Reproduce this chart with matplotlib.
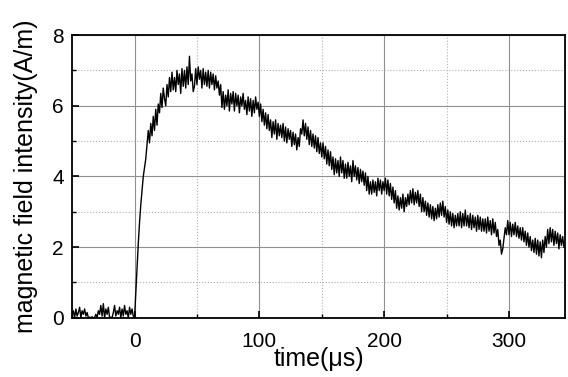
import numpy as np
import matplotlib
matplotlib.use("Agg")
import matplotlib.pyplot as plt
from matplotlib.ticker import MultipleLocator

plt.rcParams["font.family"] = ["Liberation Sans", "DejaVu Sans"]

# magnetic field intensity (A/m), every 1 us from -50 us
field = [
    # -50 .. -1
    0.1, 0.2, 0.0, 0.25, 0.05, 0.15, 0.3, 0.0, 0.2, 0.1,
    0.25, 0.05, 0.15, 0.0, 0.02, 0.0, 0.03, 0.0, 0.01, 0.1,
    0.0, 0.2, 0.1, 0.35, 0.05, 0.4, 0.0, 0.25, 0.1, 0.3,
    0.0, 0.02, 0.0, 0.15, 0.35, 0.05, 0.2, 0.1, 0.3, 0.0,
    0.25, 0.05, 0.35, 0.1, 0.2, 0.0, 0.3, 0.1, 0.25, 0.05,
    # 0 .. 99
    0.0, 0.7, 1.4, 2.1, 2.7, 3.2, 3.6, 4.0, 4.25, 4.5,
    4.9, 5.3, 4.95, 5.5, 5.15, 5.7, 5.3, 5.9, 5.45, 6.05,
    5.8, 6.35, 5.95, 6.5, 6.2, 6.0, 6.6, 6.25, 6.8, 6.4,
    6.95, 6.45, 6.8, 6.4, 7.0, 6.6, 6.9, 6.35, 7.05, 6.55,
    7.0, 6.5, 7.1, 6.6, 7.4, 6.7, 6.9, 6.4, 6.55, 7.05,
    6.6, 7.1, 6.75, 7.0, 6.5, 7.05, 6.6, 6.95, 6.55, 7.0,
    6.5, 6.95, 6.6, 6.9, 6.45, 6.85, 6.5, 6.7, 6.3, 6.6,
    5.95, 6.4, 5.9, 6.3, 6.0, 6.45, 5.85, 6.35, 6.05, 6.4,
    5.85, 6.35, 6.0, 6.3, 5.8, 6.25, 6.0, 6.35, 5.9, 6.15,
    5.75, 6.25, 5.85, 6.2, 5.7, 6.15, 5.8, 6.25, 5.9, 6.1,
    # 100 .. 199
    5.7, 6.05, 5.55, 5.9, 5.45, 5.8, 5.35, 5.75, 5.3, 5.6,
    5.1, 5.55, 5.2, 5.6, 5.05, 5.5, 5.15, 5.45, 5.1, 5.5,
    5.0, 5.4, 4.95, 5.35, 5.05, 5.3, 4.85, 5.25, 4.9, 5.2,
    4.75, 5.1, 4.85, 5.35, 5.2, 5.6, 5.15, 5.5, 5.05, 5.4,
    4.9, 5.3, 4.85, 5.2, 4.8, 5.15, 4.7, 5.1, 4.65, 4.95,
    4.55, 4.95, 4.5, 4.85, 4.35, 4.75, 4.3, 4.7, 4.2, 4.55,
    4.05, 4.5, 4.1, 4.45, 4.0, 4.55, 4.1, 4.45, 3.95, 4.35,
    3.95, 4.4, 4.0, 4.3, 3.85, 4.45, 4.0, 4.3, 3.9, 4.25,
    3.8, 4.2, 3.85, 4.15, 3.75, 4.1, 3.6, 4.0, 3.5, 3.85,
    3.5, 3.9, 3.55, 3.85, 3.45, 3.95, 3.6, 3.9, 3.5, 3.85,
    # 200 .. 299
    3.6, 3.95, 3.5, 3.9, 3.45, 3.8, 3.35, 3.7, 3.25, 3.6,
    3.1, 3.45, 3.05, 3.4, 3.1, 3.5, 3.0, 3.4, 3.15, 3.5,
    3.2, 3.6, 3.25, 3.65, 3.2, 3.55, 3.25, 3.6, 3.15, 3.5,
    3.0, 3.4, 3.0, 3.3, 2.9, 3.25, 2.85, 3.2, 2.8, 3.15,
    2.75, 3.1, 2.8, 3.2, 2.85, 3.25, 2.9, 3.3, 2.85, 3.15,
    2.7, 3.05, 2.65, 3.0, 2.6, 2.95, 2.55, 2.9, 2.6, 2.95,
    2.6, 3.0, 2.55, 2.95, 2.6, 3.05, 2.6, 2.9, 2.55, 2.95,
    2.5, 2.9, 2.55, 2.85, 2.45, 2.9, 2.5, 2.85, 2.45, 2.8,
    2.45, 2.8, 2.4, 2.85, 2.45, 2.75, 2.35, 2.8, 2.4, 2.7,
    2.3, 2.5, 2.05, 2.2, 1.8, 1.95, 2.25, 2.55, 2.35, 2.75,
    # 300 .. 344
    2.35, 2.7, 2.3, 2.65, 2.35, 2.7, 2.3, 2.6, 2.25, 2.55,
    2.2, 2.55, 2.15, 2.45, 2.05, 2.4, 2.0, 2.3, 1.9, 2.2,
    1.85, 2.25, 1.8, 2.2, 1.75, 2.15, 1.7, 2.2, 1.85, 2.3,
    2.0, 2.5, 2.1, 2.55, 2.15, 2.5, 2.05, 2.45, 2.1, 2.4,
    1.95, 2.35, 2.05, 2.3, 2.0,
]
time_us = -50 + np.arange(len(field))

fig = plt.figure(figsize=(5.68, 3.77), dpi=100)
ax = fig.add_axes([0.127, 0.157, 0.868, 0.75])

ax.plot(time_us, field, color="black", linewidth=1.0)

ax.set_xlim(-50, 345)
ax.set_ylim(0, 8)
ax.xaxis.set_major_locator(MultipleLocator(100))
ax.xaxis.set_minor_locator(MultipleLocator(50))
ax.yaxis.set_major_locator(MultipleLocator(2))
ax.yaxis.set_minor_locator(MultipleLocator(1))

ax.grid(which="major", color="#909090", linestyle="-", linewidth=0.8)
ax.grid(which="minor", color="#b0b0b0", linestyle=":", linewidth=0.8)
ax.set_axisbelow(True)

ax.tick_params(which="both", direction="in", labelsize=15)
ax.tick_params(axis="x", pad=10)
ax.tick_params(axis="y", pad=6)
ax.tick_params(which="major", length=5, width=1.2)
ax.tick_params(which="minor", length=3, width=1.0)
for s in ax.spines.values():
    s.set_linewidth(1.3)

ax.set_xlabel("time(μs)", fontsize=18, labelpad=-3)
ax.set_ylabel("magnetic field intensity(A/m)", fontsize=18, labelpad=10)

fig.savefig("out.png", dpi=100)
